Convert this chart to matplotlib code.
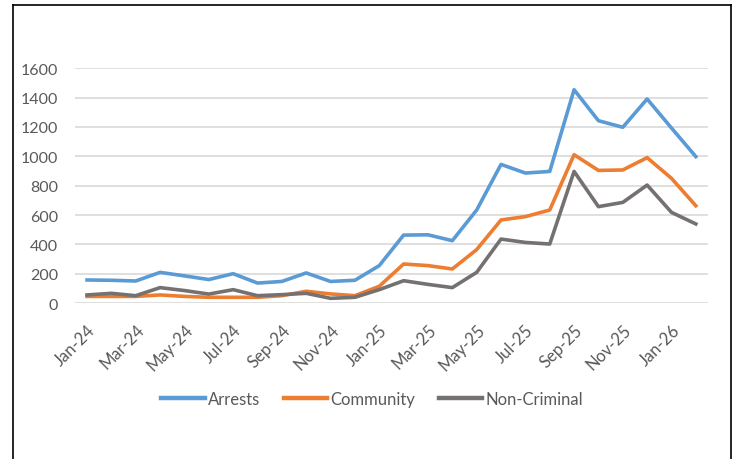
import matplotlib.pyplot as plt
from matplotlib.lines import Line2D

months = ['Jan-24', 'Feb-24', 'Mar-24', 'Apr-24', 'May-24', 'Jun-24', 'Jul-24', 'Aug-24',
          'Sep-24', 'Oct-24', 'Nov-24', 'Dec-24', 'Jan-25', 'Feb-25', 'Mar-25', 'Apr-25',
          'May-25', 'Jun-25', 'Jul-25', 'Aug-25', 'Sep-25', 'Oct-25', 'Nov-25', 'Dec-25',
          'Jan-26', 'Feb-26']

arrests = [157, 155, 150, 209, 185, 160, 200, 136, 147, 205, 147, 155, 255,
           463, 465, 425, 634, 945, 886, 897, 1454, 1243, 1198, 1391, 1193, 998]
community = [45, 45, 45, 55, 45, 39, 39, 39, 50, 80, 62, 50, 114,
             266, 255, 232, 364, 566, 589, 634, 1011, 904, 907, 991, 850, 663]
non_criminal = [55, 66, 50, 105, 85, 61, 91, 50, 57, 66, 32, 39, 91,
                152, 127, 105, 209, 436, 413, 402, 897, 657, 686, 804, 618, 539]

yticks = [0, 200, 400, 600, 800, 1000, 1200, 1400, 1600]

plt.rcParams['font.family'] = ['Lato', 'DejaVu Sans']
txt = '#595959'

fig = plt.figure(figsize=(7.34, 4.6), dpi=100)
ax = fig.add_axes([0.102, 0.3391, 0.8626, 0.5102])

x = list(range(len(months)))
ax.plot(x, arrests, color='#5B9BD5', lw=2.6, label='Arrests', solid_joinstyle='round')
ax.plot(x, community, color='#ED7D31', lw=2.6, label='Community', solid_joinstyle='round')
ax.plot(x, non_criminal, color='#757171', lw=2.6, label='Non-Criminal', solid_joinstyle='round')

ax.set_xlim(-0.5, len(months) - 0.5)
ax.set_ylim(0, 1600)
ax.set_yticks(yticks)
ax.set_yticklabels([str(v) for v in yticks], fontsize=11.5, color=txt)
ax.set_xticks(x[::2])
ax.set_xticklabels(months[::2], rotation=45, ha='right', va='top',
                   rotation_mode='anchor', fontsize=12, color=txt)
ax.tick_params(length=0)
ax.tick_params(axis='y', pad=12)
ax.tick_params(axis='x', pad=13)
ax.grid(axis='y', color='#D9D9D9', lw=1.2)
ax.set_axisbelow(True)
for s in ax.spines.values():
    s.set_visible(False)

leg = fig.legend(loc='center', bbox_to_anchor=(0.507, 0.13), ncol=3, frameon=False,
                 fontsize=12, handlelength=2.6, columnspacing=1.4, handletextpad=0.2)
for h in leg.get_lines():
    h.set_linewidth(3.2)
for t in leg.get_texts():
    t.set_color(txt)

# outer frame (left, top, right)
fig.add_artist(Line2D([12.5 / 734, 12.5 / 734], [0, 1 - 6 / 460], color='black', lw=1.2, transform=fig.transFigure))
fig.add_artist(Line2D([12.5 / 734, 730.5 / 734], [1 - 6 / 460, 1 - 6 / 460], color='black', lw=1.2, transform=fig.transFigure))
fig.add_artist(Line2D([730.5 / 734, 730.5 / 734], [0, 1 - 6 / 460], color='black', lw=1.2, transform=fig.transFigure))

fig.savefig('out.png', dpi=100)
